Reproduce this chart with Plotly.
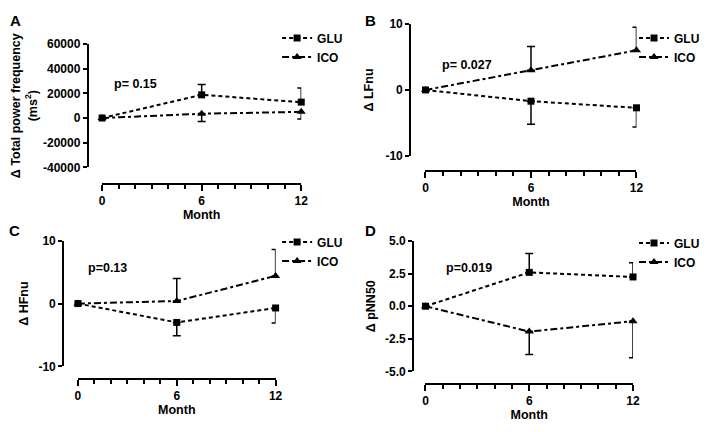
import plotly.graph_objects as go

# ---------------- data ----------------
months = [0, 6, 12]
month_tickvals = [0, 6, 12]
month_ticktext = ["0", "6", "12"]
month_minor_tickvals = [1, 2, 3, 4, 5, 7, 8, 9, 10, 11]

# Panel A: Δ Total power frequency (ms²)
glu_A = [0, 18800, 12900]
glu_A_err_up = [0, 8400, 11400]
ico_A = [0, 3500, 5000]
ico_A_err_down = [0, 6300, 5800]
yticks_A = [-40000, -20000, 0, 20000, 40000, 60000]
yticktext_A = ["-40000", "-20000", "0", "20000", "40000", "60000"]

# Panel B: Δ LFnu
glu_B = [0, -1.7, -2.7]
glu_B_err_down = [0, 3.5, 2.9]
ico_B = [0, 3.0, 6.0]
ico_B_err_up = [0, 3.6, 3.5]
yticks_B = [-10, 0, 10]
yticktext_B = ["-10", "0", "10"]

# Panel C: Δ HFnu
glu_C = [0, -3.0, -0.7]
glu_C_err_down = [0, 2.1, 2.4]
ico_C = [0, 0.4, 4.4]
ico_C_err_up = [0, 3.6, 4.2]
yticks_C = [-10, 0, 10]
yticktext_C = ["-10", "0", "10"]

# Panel D: Δ pNN50
glu_D = [0, 2.6, 2.25]
glu_D_err_up = [0, 1.45, 1.1]
ico_D = [0, -1.95, -1.15]
ico_D_err_down = [0, 1.75, 2.8]
yticks_D = [-5.0, -2.5, 0.0, 2.5, 5.0]
yticktext_D = ["-5.0", "-2.5", "0.0", "2.5", "5.0"]

p_values = ["p= 0.15", "p= 0.027", "p=0.13", "p=0.019"]
panel_letters = ["A", "B", "C", "D"]
y_titles = ["Δ Total power frequency<br>(ms<sup>2</sup>)", "Δ LFnu", "Δ HFnu", "Δ pNN50"]

# ---------------- layout helpers ----------------
W, H = 712, 432
FONT = "Liberation Sans, Arial, sans-serif"


def px(x):
    return x / W


def py(y):
    return 1 - y / H


fig = go.Figure()

panels = [
    dict(glu=glu_A, glu_up=glu_A_err_up, glu_dn=None,
         ico=ico_A, ico_up=None, ico_dn=ico_A_err_down,
         yrange=[-40000, 60000], yt=yticks_A, ytt=yticktext_A,
         xdom=(100.5, 302.5), ydom=(38.3, 165.7), xline=183, yline=86,
         standoff=2, ptxt=(134, 80), letter=(13, 14), leg=(318, 38)),
    dict(glu=glu_B, glu_up=None, glu_dn=glu_B_err_down,
         ico=ico_B, ico_up=ico_B_err_up, ico_dn=None,
         yrange=[-10, 10], yt=yticks_B, ytt=yticktext_B,
         xdom=(428.5, 642.5), ydom=(17.5, 154), xline=169.5, yline=413,
         standoff=8, ptxt=(471, 60), letter=(373, 14), leg=(680, 38)),
    dict(glu=glu_C, glu_up=None, glu_dn=glu_C_err_down,
         ico=ico_C, ico_up=ico_C_err_up, ico_dn=None,
         yrange=[-10, 10], yt=yticks_C, ytt=yticktext_C,
         xdom=(76, 276.5), ydom=(241.5, 371.5), xline=384.5, yline=61,
         standoff=6, ptxt=(106, 270), letter=(12, 231), leg=(318, 249)),
    dict(glu=glu_D, glu_up=glu_D_err_up, glu_dn=None,
         ico=ico_D, ico_up=None, ico_dn=ico_D_err_down,
         yrange=[-5, 5], yt=yticks_D, ytt=yticktext_D,
         xdom=(428.5, 639), ydom=(242, 376.5), xline=390, yline=416,
         standoff=6, ptxt=(473, 270), letter=(373, 231), leg=(680, 250)),
]

annotations = []
layout_updates = {}
TICKFONT = dict(family=FONT, size=12, color="black", weight="bold")
TITLEFONT = dict(family=FONT, size=12.5, color="black", weight="bold")

for i, p in enumerate(panels):
    k = i + 1
    xa = "x" if k == 1 else f"x{k}"
    ya = "y" if k == 1 else f"y{k}"
    xkey = "xaxis" if k == 1 else f"xaxis{k}"
    ykey = "yaxis" if k == 1 else f"yaxis{k}"
    legkey = "legend" if k == 1 else f"legend{k}"

    def err(up, dn):
        n = len(months)
        return dict(type="data", symmetric=False,
                    array=up if up is not None else [0] * n,
                    arrayminus=dn if dn is not None else [0] * n,
                    color="black", thickness=1.5, width=4)

    # ICO drawn first so GLU square is on top at month 0
    fig.add_trace(go.Scatter(
        x=months, y=p["ico"], name="ICO", mode="lines+markers",
        line=dict(color="black", width=2, dash="7px,3px,3px,3px"),
        marker=dict(symbol="triangle-up", size=8, color="black"),
        error_y=err(p["ico_up"], p["ico_dn"]),
        xaxis=xa, yaxis=ya, legend=legkey, legendrank=2, cliponaxis=False))
    fig.add_trace(go.Scatter(
        x=months, y=p["glu"], name="GLU", mode="lines+markers",
        line=dict(color="black", width=2, dash="4px,3px"),
        marker=dict(symbol="square", size=7, color="black"),
        error_y=err(p["glu_up"], p["glu_dn"]),
        xaxis=xa, yaxis=ya, legend=legkey, legendrank=1, cliponaxis=False))

    layout_updates[xkey] = dict(
        domain=[px(p["xdom"][0]), px(p["xdom"][1])],
        range=[months[0], months[-1]], anchor="free", position=py(p["xline"]),
        tickmode="array", tickvals=month_tickvals, ticktext=month_ticktext,
        ticks="outside", ticklen=5.5, tickwidth=2, tickcolor="black",
        minor=dict(tickmode="array", tickvals=month_minor_tickvals,
                   ticks="outside", ticklen=4, tickwidth=1.8, tickcolor="black"),
        showline=True, linecolor="black", linewidth=2,
        showgrid=False, zeroline=False,
        tickfont=TICKFONT,
        title=dict(text="Month", standoff=0, font=TITLEFONT),
    )
    layout_updates[ykey] = dict(
        domain=[py(p["ydom"][1]), py(p["ydom"][0])],
        range=p["yrange"], anchor="free", position=px(p["yline"]),
        tickmode="array", tickvals=p["yt"], ticktext=p["ytt"],
        ticks="outside", ticklen=4, tickwidth=2, tickcolor="black",
        showline=True, linecolor="black", linewidth=2,
        showgrid=False, zeroline=False,
        tickfont=TICKFONT,
        title=dict(text=y_titles[i], standoff=p["standoff"], font=TITLEFONT),
    )
    layout_updates[legkey] = dict(
        x=px(p["leg"][0] - 40), y=py(p["leg"][1] - 21),
        xanchor="left", yanchor="top",
        bgcolor="rgba(0,0,0,0)", borderwidth=0,
        font=dict(family=FONT, size=12, color="black", weight="bold"),
        tracegroupgap=0, itemwidth=30,
    )
    annotations.append(dict(
        x=px(p["ptxt"][0]), y=py(p["ptxt"][1]), xref="paper", yref="paper",
        text=p_values[i], showarrow=False, xanchor="center", yanchor="middle",
        font=dict(family=FONT, size=12.5, color="black", weight="bold")))
    annotations.append(dict(
        x=px(p["letter"][0]), y=py(p["letter"][1]), xref="paper", yref="paper",
        text=panel_letters[i], showarrow=False, xanchor="center", yanchor="middle",
        font=dict(family=FONT, size=15, color="black", weight="bold")))

fig.update_layout(
    width=W, height=H,
    margin=dict(l=0, r=0, t=0, b=0),
    paper_bgcolor="white", plot_bgcolor="white",
    font=dict(family=FONT, size=12, color="black"),
    annotations=annotations,
    **layout_updates,
)

fig.write_html("out.html",
               config={"displayModeBar": False},
               post_script="document.body.style.margin='0';document.body.style.padding='0';")
